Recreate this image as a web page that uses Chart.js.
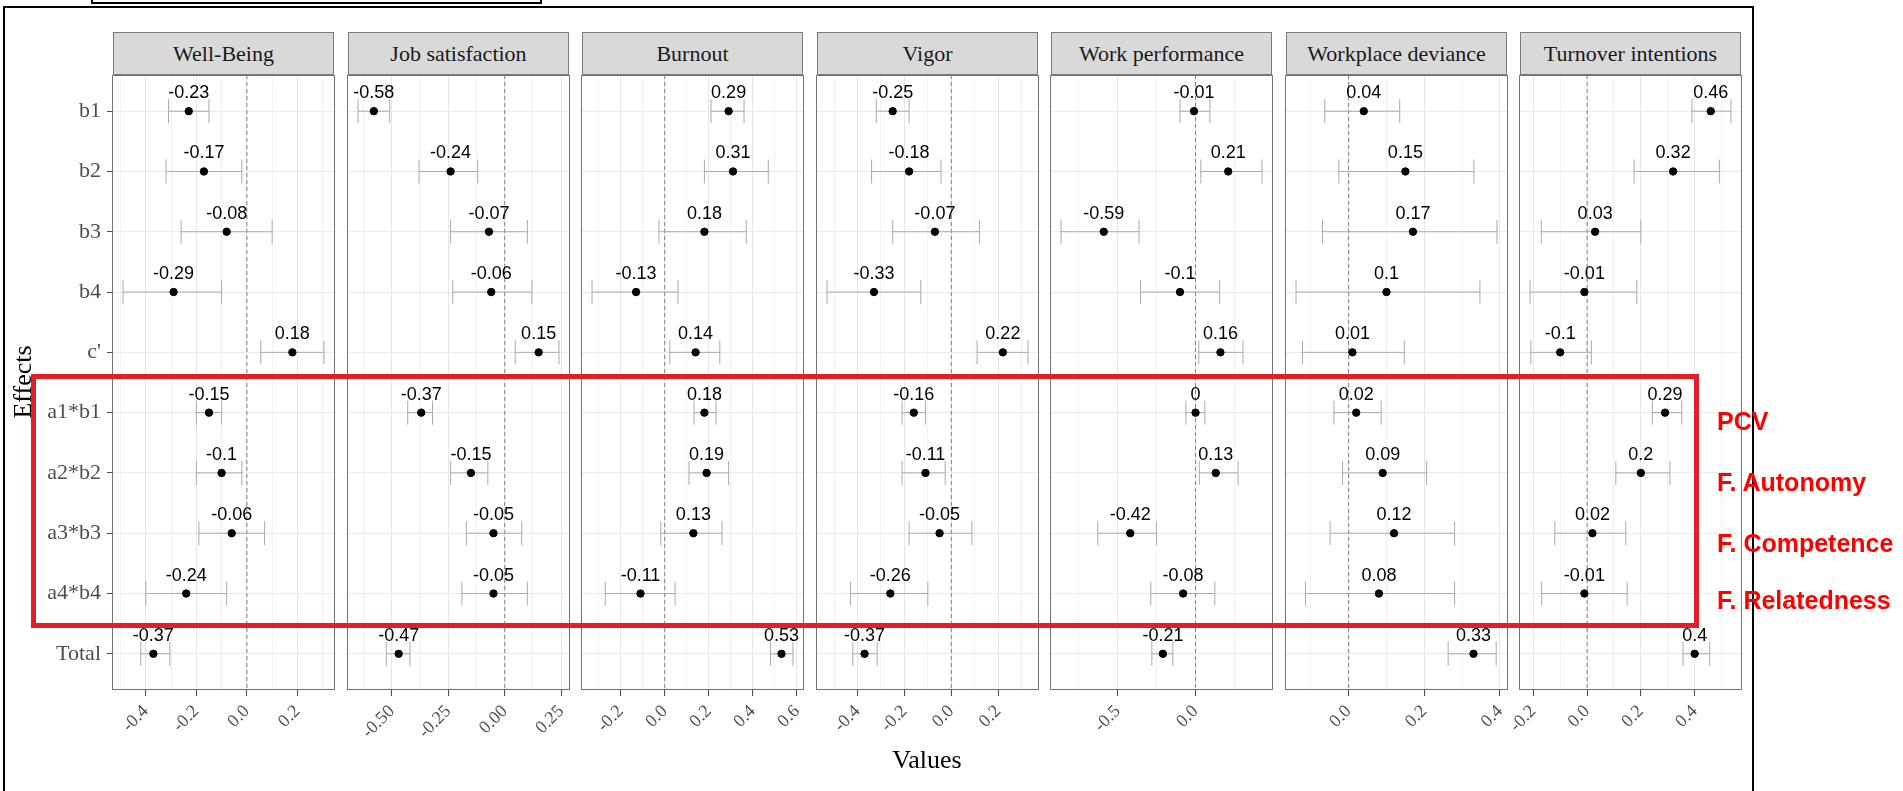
<!DOCTYPE html>
<html>
<head>
<meta charset="utf-8">
<script src="https://cdn.jsdelivr.net/npm/chart.js@4.4.1/dist/chart.umd.min.js"></script>
<style>
  html, body { margin: 0; padding: 0; background: #fff; overflow: hidden; }
  #page { position: relative; width: 1903px; height: 791px; overflow: hidden; background: #fff; }
  #page canvas { position: absolute; }
  .box { position: absolute; box-sizing: border-box; }
  .strip {
    position: absolute; top: 32px; height: 43px; box-sizing: border-box;
    background: #d9d9d9; border: 1px solid #7a7a7a; color: #1a1a1a;
    font-family: 'Liberation Serif', 'Times New Roman', serif; font-size: 22px;
    display: flex; align-items: center; justify-content: center;
  }
  .axis-title {
    position: absolute; width: 200px; height: 30px; line-height: 30px; text-align: center;
    font-family: 'Liberation Serif', 'Times New Roman', serif; font-size: 26px; color: #000;
  }
  .group {
    position: absolute; left: 1717px; height: 25px; line-height: 25px; white-space: nowrap;
    font-family: 'Liberation Sans', Arial, sans-serif; font-weight: bold; font-size: 25px; color: #ff0000;
  }
</style>
</head>
<body>
<div id="page"></div>
<script>
// effects (rows, top to bottom)
const effects = ['b1', 'b2', 'b3', 'b4', "c'", 'a1*b1', 'a2*b2', 'a3*b3', 'a4*b4', 'Total'];
const outcomes = ['Well-Being', 'Job satisfaction', 'Burnout', 'Vigor',
                  'Work performance', 'Workplace deviance', 'Turnover intentions'];
const groupLabels = ['PCV', 'F. Autonomy', 'F. Competence', 'F. Relatedness'];

// estimates and confidence limits, one set per outcome
const wbEst  = [-0.23, -0.17, -0.08, -0.29, 0.18, -0.15, -0.1, -0.06, -0.24, -0.37];
const wbLow  = [-0.31, -0.32, -0.26, -0.49, 0.055, -0.20, -0.20, -0.19, -0.40, -0.42];
const wbHigh = [-0.15, -0.02, 0.10, -0.10, 0.305, -0.10, -0.02, 0.07, -0.08, -0.305];

const jsEst  = [-0.58, -0.24, -0.07, -0.06, 0.15, -0.37, -0.15, -0.05, -0.05, -0.47];
const jsLow  = [-0.65, -0.38, -0.24, -0.23, 0.046, -0.43, -0.24, -0.17, -0.19, -0.525];
const jsHigh = [-0.51, -0.12, 0.10, 0.12, 0.24, -0.32, -0.075, 0.075, 0.10, -0.42];

const boEst  = [0.29, 0.31, 0.18, -0.13, 0.14, 0.18, 0.19, 0.13, -0.11, 0.53];
const boLow  = [0.21, 0.18, -0.026, -0.33, 0.023, 0.133, 0.11, -0.018, -0.27, 0.48];
const boHigh = [0.36, 0.47, 0.37, 0.06, 0.25, 0.233, 0.29, 0.26, 0.047, 0.582];

const viEst  = [-0.25, -0.18, -0.07, -0.33, 0.22, -0.16, -0.11, -0.05, -0.26, -0.37];
const viLow  = [-0.32, -0.34, -0.25, -0.53, 0.11, -0.21, -0.21, -0.18, -0.43, -0.42];
const viHigh = [-0.18, -0.044, 0.12, -0.13, 0.327, -0.11, -0.026, 0.088, -0.10, -0.316];

const wpEst  = [-0.01, 0.21, -0.59, -0.1, 0.16, 0, 0.13, -0.42, -0.08, -0.21];
const wpLow  = [-0.10, 0.034, -0.865, -0.354, 0.021, -0.062, 0.024, -0.629, -0.288, -0.281];
const wpHigh = [0.092, 0.427, -0.363, 0.155, 0.305, 0.06, 0.273, -0.251, 0.124, -0.146];

const wdEst  = [0.04, 0.15, 0.17, 0.1, 0.01, 0.02, 0.09, 0.12, 0.08, 0.33];
const wdLow  = [-0.063, -0.026, -0.069, -0.139, -0.122, -0.039, -0.016, -0.049, -0.114, 0.263];
const wdHigh = [0.135, 0.331, 0.392, 0.347, 0.147, 0.086, 0.206, 0.28, 0.28, 0.39];

const tiEst  = [0.46, 0.32, 0.03, -0.01, -0.1, 0.29, 0.2, 0.02, -0.01, 0.4];
const tiLow  = [0.39, 0.175, -0.17, -0.212, -0.209, 0.243, 0.107, -0.12, -0.169, 0.357];
const tiHigh = [0.535, 0.492, 0.2, 0.185, 0.016, 0.352, 0.308, 0.144, 0.149, 0.456];

// x-axis breaks per panel (step between labelled ticks, decimals shown)
const tickSteps    = [0.2, 0.25, 0.2, 0.2, 0.5, 0.2, 0.2];
const tickDecimals = [1, 2, 1, 1, 1, 1, 1];

const estimates = [wbEst, jsEst, boEst, viEst, wpEst, wdEst, tiEst];
const lows      = [wbLow, jsLow, boLow, viLow, wpLow, wdLow, tiLow];
const highs     = [wbHigh, jsHigh, boHigh, viHigh, wpHigh, wdHigh, tiHigh];

// layout
const panelLefts = [113, 348, 582, 817, 1051, 1286, 1520];
const panelTop = 75, panelH = 615, panelW = 221, axisH = 55, sideGap = 30;
const serif = "'Liberation Serif', 'Times New Roman', serif";
const sans = "'Liberation Sans', Arial, sans-serif";

const page = document.getElementById('page');

function addDiv(cls, css, text) {
  const d = document.createElement('div');
  d.className = cls;
  Object.assign(d.style, css);
  if (text !== undefined) d.textContent = text;
  page.appendChild(d);
  return d;
}

const valueLabels = {
  id: 'valueLabels',
  afterDatasetsDraw(chart) {
    const ctx = chart.ctx;
    const ds = chart.data.datasets[0];
    ctx.save();
    ctx.font = '18px ' + sans;
    ctx.fillStyle = '#000';
    ctx.textAlign = 'center';
    ctx.textBaseline = 'alphabetic';
    chart.getDatasetMeta(0).data.forEach((pt, k) => {
      ctx.fillText(String(ds.data[k].x), pt.x, pt.y - 13);
    });
    ctx.restore();
  }
};

const panelBorder = {
  id: 'panelBorder',
  afterDraw(chart) {
    const {left, top, right, bottom} = chart.chartArea;
    const ctx = chart.ctx;
    ctx.save();
    ctx.strokeStyle = '#737373';
    ctx.lineWidth = 1;
    ctx.strokeRect(Math.round(left) - 0.5, Math.round(top) + 0.5,
                   Math.round(right - left) + 1, Math.round(bottom - top) - 1);
    ctx.restore();
  }
};

outcomes.forEach((name, i) => {
  const first = i === 0;
  const est = estimates[i], low = lows[i], high = highs[i];
  const step = tickSteps[i], dec = tickDecimals[i];

  // ggplot-style limits: data range plus 5% each side
  const all = low.concat(high, [0]);
  const dMin = Math.min(...all), dMax = Math.max(...all);
  const pad = (dMax - dMin) * 0.05;

  const isMajor = v => Math.abs(v / step - Math.round(v / step)) < 1e-6;

  const bars = [];
  est.forEach((_, k) => {
    bars.push({x: low[k], y: k}, {x: high[k], y: k}, {x: null, y: null});
  });

  addDiv('strip', {left: panelLefts[i] + 'px', width: panelW + 'px'}, name);

  const leftRoom = first ? panelLefts[0] : sideGap;
  const cv = document.createElement('canvas');
  cv.width = leftRoom + panelW + 5;
  cv.height = 2 + panelH + axisH;
  cv.style.left = (panelLefts[i] - leftRoom) + 'px';
  cv.style.top = (panelTop - 2) + 'px';
  page.appendChild(cv);

  new Chart(cv, {
    type: 'scatter',
    data: {
      datasets: [
        {
          data: est.map((v, k) => ({x: v, y: k})),
          pointRadius: 3.7,
          pointBackgroundColor: '#000',
          pointBorderColor: '#000',
          pointBorderWidth: 1
        },
        {
          data: bars,
          showLine: true,
          spanGaps: false,
          borderColor: '#aaaaaa',
          borderWidth: 1,
          pointStyle: 'line',
          pointRotation: 90,
          pointRadius: 12,
          pointBorderColor: '#aaaaaa',
          pointBorderWidth: 1
        },
        {
          data: [{x: 0, y: -0.6}, {x: 0, y: 9.6}],
          showLine: true,
          borderColor: '#7f7f7f',
          borderWidth: 1,
          borderDash: [4, 3],
          pointRadius: 0
        }
      ]
    },
    options: {
      responsive: false,
      animation: false,
      devicePixelRatio: 1,
      events: [],
      layout: {autoPadding: false, padding: {left: first ? 0 : sideGap, right: 5, top: 2, bottom: 0}},
      plugins: {legend: {display: false}, tooltip: {enabled: false}},
      scales: {
        x: {
          type: 'linear',
          min: dMin - pad,
          max: dMax + pad,
          afterFit: s => { s.height = axisH; s.paddingLeft = 0; s.paddingRight = 0; },
          border: {display: false},
          grid: {
            color: c => isMajor(c.tick.value) ? '#e6e6e6' : '#f2f2f2',
            lineWidth: 1,
            drawTicks: true,
            tickLength: 6,
            tickWidth: 1,
            tickColor: c => isMajor(c.tick.value) ? '#4d4d4d' : 'rgba(0,0,0,0)'
          },
          ticks: {
            stepSize: step / 2,
            includeBounds: false,
            autoSkip: false,
            minRotation: 45,
            maxRotation: 45,
            padding: 5,
            color: '#4d4d4d',
            font: {family: serif, size: 18},
            callback: v => isMajor(v) ? (Math.abs(v) < 1e-9 ? 0 : v).toFixed(dec) : ''
          }
        },
        y: {
          type: 'linear',
          min: -0.6,
          max: 9.6,
          reverse: true,
          afterFit: s => { s.width = first ? panelLefts[0] : 0; s.paddingTop = 0; s.paddingBottom = 0; },
          border: {display: false},
          grid: {
            color: '#ebebeb',
            lineWidth: 1,
            drawTicks: first,
            tickLength: 6,
            tickColor: '#4d4d4d'
          },
          ticks: {
            display: first,
            stepSize: 1,
            includeBounds: false,
            autoSkip: false,
            padding: 6,
            color: '#4d4d4d',
            font: {family: serif, size: 22},
            callback: v => effects[v] !== undefined ? effects[v] : ''
          }
        }
      }
    },
    plugins: [valueLabels, panelBorder]
  });
});

// axis titles
addDiv('axis-title', {left: '-77px', top: '367px', transform: 'rotate(-90deg)'}, 'Effects');
addDiv('axis-title', {left: '827px', top: '745px'}, 'Values');

// frames
addDiv('box', {left: '91px', top: '-10px', width: '451px', height: '14px', border: '2px solid #000'});
addDiv('box', {left: '3px', top: '6px', width: '1751px', height: '900px', border: '2px solid #000'});

// highlighted indirect effects
addDiv('box', {left: '31px', top: '374px', width: '1668px', height: '254px', border: '5px solid #e21f26'});
const groupCentres = [421, 482, 543, 600];
groupLabels.forEach((t, k) => addDiv('group', {top: (groupCentres[k] - 12) + 'px'}, t));
</script>
</body>
</html>
